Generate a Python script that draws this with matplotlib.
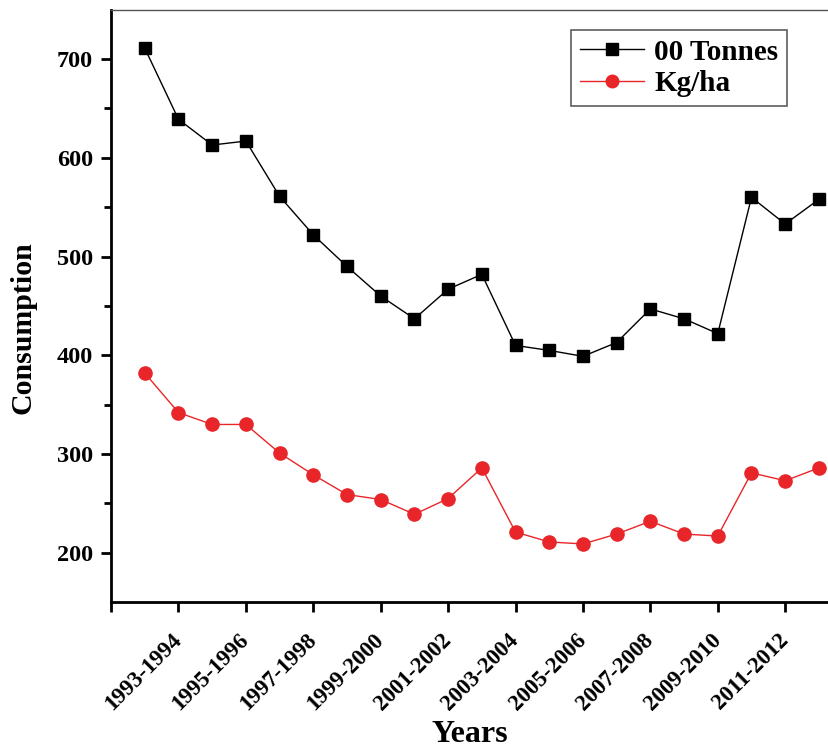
import matplotlib
matplotlib.use("Agg")
import matplotlib.pyplot as plt
from matplotlib.ticker import FixedLocator

# === Data ===
tonnes = [711, 639, 613, 617, 561, 522, 490, 460, 437, 467, 482,
          410, 405, 399, 413, 447, 437, 422, 560, 533, 558]
kg_ha = [382, 342, 330, 330, 301, 279, 259, 254, 239, 255, 286,
         221, 211, 209, 219, 232, 219, 217, 281, 273, 286]
tick_labels = ["1993-1994", "1995-1996", "1997-1998", "1999-2000", "2001-2002",
               "2003-2004", "2005-2006", "2007-2008", "2009-2010", "2011-2012"]

x = list(range(len(tonnes)))
plt.rcParams['font.family'] = ['Liberation Serif', 'DejaVu Serif']
plt.rcParams['font.weight'] = 'bold'

fig = plt.figure(figsize=(8.29, 7.49), dpi=100)
ax = fig.add_axes([0.134, 0.196, 0.866, 0.791])

ax.plot(x, tonnes, color='black', lw=1, marker='s', markersize=8.5, label='00 Tonnes')
ax.plot(x, kg_ha, color='#e8262a', lw=1, marker='o', markersize=9.5, label='Kg/ha')

ax.set_xlim(-1, 20.3)
ax.set_ylim(150, 750)

ax.xaxis.set_major_locator(FixedLocator(list(range(-1, 20, 2))))
ax.set_xticklabels([""] + tick_labels, rotation=45, ha='right', va='center',
                   rotation_mode='anchor', fontsize=16.5, fontweight='bold')
ax.yaxis.set_major_locator(FixedLocator([200, 300, 400, 500, 600, 700]))
ax.yaxis.set_minor_locator(FixedLocator([250, 350, 450, 550, 650]))
for lab in ax.get_yticklabels():
    lab.set_fontsize(17.5)
    lab.set_fontweight('bold')

ax.tick_params(axis='both', which='major', direction='out', length=7, width=2, pad=6)
ax.tick_params(axis='x', which='major', pad=18)
ax.tick_params(axis='y', which='minor', direction='out', length=5, width=2)

ax.spines['left'].set_linewidth(2)
ax.spines['bottom'].set_linewidth(2)
ax.spines['top'].set_linewidth(1)
ax.spines['top'].set_color('#555555')
ax.spines['right'].set_visible(False)

ax.set_xlabel("Years", fontsize=23, fontweight='bold', labelpad=4)
ax.set_ylabel("Consumption", fontsize=21.5, fontweight='bold')
ax.yaxis.set_label_coords(-0.104, 0.464)

leg = ax.legend(loc='upper right', bbox_to_anchor=(0.9415, 0.966), borderaxespad=0,
                prop={'weight': 'bold', 'size': 21}, fancybox=False, edgecolor='#333333',
                handlelength=2.2, borderpad=0.3, labelspacing=0.15, handletextpad=0.35,
                markerscale=0.95)
leg.get_frame().set_linewidth(1.2)

fig.savefig("out.png", dpi=100)
